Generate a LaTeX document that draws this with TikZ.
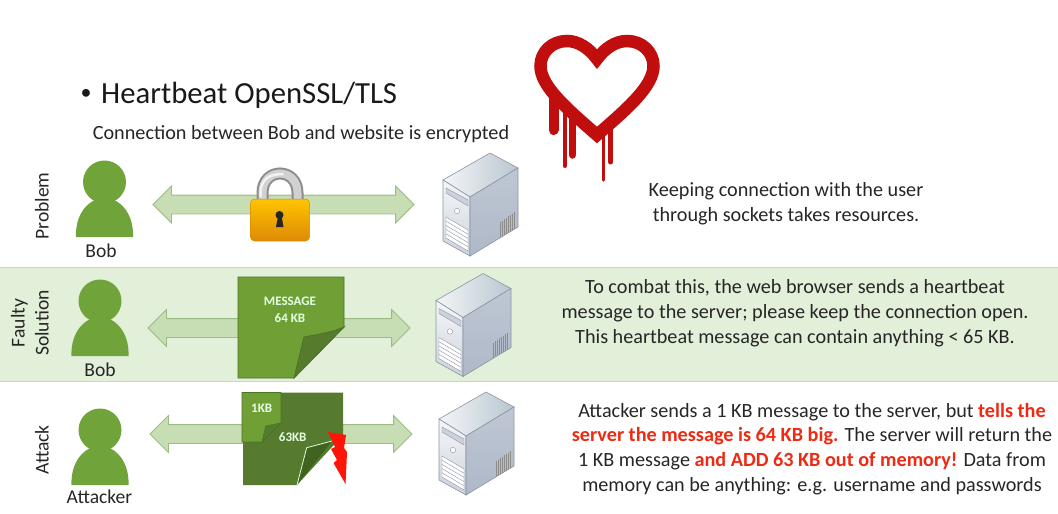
\documentclass[tikz,border=0pt]{standalone}
\usepackage{fontspec}
\setmainfont{Carlito}
\usetikzlibrary{shapes.arrows}
\definecolor{bandgreen}{HTML}{E2EFD9}
\definecolor{bandline}{HTML}{C5DDB5}
\definecolor{arrowfill}{HTML}{C7DDB4}
\definecolor{arrowline}{HTML}{9DBB85}
\definecolor{persongreen}{HTML}{70A33A}
\definecolor{docgreen}{HTML}{70A035}
\definecolor{docline}{HTML}{4A7426}
\definecolor{docdark}{HTML}{567A2E}
\definecolor{folddark}{HTML}{40631F}
\definecolor{heartred}{HTML}{C00D0D}
\definecolor{boltred}{HTML}{FF1408}
\definecolor{alertred}{HTML}{EE2A12}
\definecolor{serverline}{HTML}{8B95A3}
\definecolor{srvtopa}{HTML}{F4F6F8}
\definecolor{srvtopb}{HTML}{B9C6D0}
\definecolor{srvfronta}{HTML}{F5F6F8}
\definecolor{srvfrontb}{HTML}{CCD2DC}
\definecolor{srvsidea}{HTML}{BFC7D4}
\definecolor{srvsideb}{HTML}{AFB8C8}
\definecolor{lockdark}{HTML}{DD8A05}
\definecolor{locklight}{HTML}{FFC400}

\begin{document}
\begin{tikzpicture}[
    x=1pt, y=-1pt,
    txt/.style={font=\fontsize{20.2}{24.8}\selectfont, align=center, inner sep=0pt, text=black!85},
    lbl/.style={txt, font=\fontsize{19.6}{24}\selectfont},
    side/.style={lbl, rotate=90},
    conn/.style={shape=double arrow, draw=arrowline, fill=arrowfill, line width=0.8pt, inner xsep=0pt, inner ysep=9pt,
        minimum width=36pt, double arrow head extend=9pt, double arrow tip angle=90},
    doctxt/.style={font=\fontsize{13}{17}\selectfont\bfseries, align=center, inner sep=0pt, text=white!90!green},
    personfig/.pic={
        \fill[persongreen] (0,-55) circle (21.5);
        \fill[persongreen] (-28.5,0) .. controls (-29.5,-24) and (-15,-39) .. (0,-39)
            .. controls (15,-39) and (29.5,-24) .. (28.5,0) -- cycle;
    },
    serverfig/.pic={
        \draw[serverline, line width=0.6pt, left color=srvtopa, right color=srvtopb]
            (0,0) -- (-27,-17) -- (20,-44) -- (48,-29) -- cycle;
        \draw[serverline, line width=0.6pt, top color=srvfronta, bottom color=srvfrontb]
            (0,0) -- (-27,-17) -- (-27,44) -- (0,59) -- cycle;
        \draw[serverline, line width=0.6pt, top color=srvsidea, bottom color=srvsideb]
            (0,0) -- (48,-29) -- (48,30) -- (0,59) -- cycle;
        \draw[serverline, fill=srvfrontb, line width=0.4pt] (-24,-9) -- (-2,3) -- (-2,9) -- (-24,-4) -- cycle;
        \draw[serverline, fill=white, line width=0.4pt] (-13,14) circle (2.7);
        \draw[serverline, fill=white, line width=0.4pt] (-24,20) -- (-2,33) -- (-2,54) -- (-24,41) -- cycle;
        \foreach \i in {1,2,3,4} {
            \draw[serverline, line width=0.4pt] (-24,20+4.2*\i) -- (-2,33+4.2*\i);
        }
        \foreach \i in {0,...,7} {
            \draw[black!45, line width=0.35pt] (30+2*\i,25-1.4*\i) -- (30+2*\i,40-1.1*\i);
        }
    }
]
\useasboundingbox (0,0) rectangle (1058,514);

\fill[bandgreen] (0,267) rectangle (1058,381);
\draw[bandline] (0,267) -- (1058,267) (0,381) -- (1058,381);

% heading
\node[font=\fontsize{30.7}{36}\selectfont, anchor=west, inner sep=0pt, text=black!90] (title) at (101,95) {Heartbeat OpenSSL/TLS};
\node[font=\fontsize{22}{24}\selectfont, inner sep=0pt, text=black!90] (dot) at (86,94) {•};
\node[txt] (subtitle) at (301,134.5) {Connection between Bob and website is encrypted};

% heart logo
\draw[heartred, line width=12.5pt, miter limit=10] (597,59)
    .. controls (589,48) and (578,41) .. (567,41) .. controls (552,41) and (540.5,52) .. (540.5,66)
    .. controls (540.5,86) and (566,108) .. (597,135) .. controls (628,108) and (653.5,86) .. (653.5,66)
    .. controls (653.5,52) and (642,41) .. (627,41) .. controls (616,41) and (605,48) .. (597,59) -- cycle;
\draw[heartred, line width=10pt, line cap=round] (553.5,95) -- (553.5,130);
\draw[heartred, line width=4pt, line cap=round] (564.7,105) -- (564.7,166);
\draw[heartred, line width=7.5pt, line cap=round] (572.7,115) -- (572.7,155);
\draw[heartred, line width=3.5pt, line cap=round] (603.7,130) -- (603.7,180);
\draw[heartred, line width=5pt, line cap=round] (610.7,120) -- (610.7,162);

% side labels
\node[side] (problem) at (42,206) {Problem};
\node[side] (faulty) at (30,323) {Faulty\\Solution};
\node[side] (attack) at (42,450) {Attack};

% people
\pic (bob) at (104.5,237) {personfig};
\pic (bobb) at (100,356) {personfig};
\pic (attacker) at (100,485) {personfig};
\node[lbl] (boblbl) at (101,251) {Bob};
\node[lbl] (bobblbl) at (100,370) {Bob};
\node[lbl] (attackerlbl) at (99.5,497) {Attacker};

% arrows
\node[conn, minimum height=261pt] (link) at (283.5,204.5) {};
\node[conn, minimum height=262pt] (linkb) at (279,328) {};
\node[conn, minimum height=262pt] (linkc) at (281,434) {};

% servers
\pic (srv) at (470,197) {serverfig};
\pic (srvb) at (463,317.5) {serverfig};
\pic (srvc) at (466,436) {serverfig};

% padlock
\begin{scope}[shift={(3.5,2)}]
\draw[black!45, line width=12pt] (259,200) -- (259,191) .. controls (259,165) and (294,165) .. (294,191) -- (294,200);
\draw[black!18, line width=8pt] (259,200) -- (259,191) .. controls (259,165) and (294,165) .. (294,191) -- (294,200);
\draw[black!5, line width=2.5pt] (257,195) -- (257,190) .. controls (258,174) and (270,172) .. (280,172);
\draw[draw=lockdark, rounded corners=4pt, line width=0.5pt, top color=locklight, bottom color=lockdark]
    (247,197) rectangle (306,239);
\fill[black!85] (276,213) circle (4) (274.5,214) -- (278,214) -- (280,225) -- (272.5,225) -- cycle;
\end{scope}

% message sheet
\draw[docline, fill=docgreen, line width=0.8pt] (238,277) -- (344,277) -- (344,327) -- (294,378) -- (238,378) -- cycle;
\draw[docline, fill=docdark, line width=0.8pt] (344,327) .. controls (330,333) and (314,335) .. (304,337) -- (294,378) -- cycle;
\node[doctxt] (msg) at (290,301) {MESSAGE};
\node[doctxt] (msgsize) at (290,318) {64 KB};

% attack sheet
\fill[docdark] (243,392.5) -- (343,392.5) -- (343,435) -- (297,485) -- (243,485) -- cycle;
\fill[folddark] (332,441) -- (306.7,447.7) -- (297,485) -- cycle;
\draw[white!85!green, line width=0.8pt] (332,441) -- (306.7,447.7) -- (297,485);
\draw[docline, fill=docgreen, line width=0.8pt] (242,392.5) -- (281,392.5) -- (281,423) -- (262,442) -- (242,442) -- cycle;
\draw[docline, fill=docdark, line width=0.6pt] (281,423) -- (265.7,426) -- (262,442) -- cycle;
\node[doctxt] (small) at (261.7,408) {1KB};
\node[doctxt] (large) at (292.7,437) {63KB};
\fill[boltred] (328,432) -- (346,435) -- (344,448) -- (347,452) -- (346.5,464) -- (345.5,484) -- (333.5,463)
    -- (337,460) -- (331,449) -- (335,447) -- cycle;

% right hand text
\node[txt] (keep) at (786,204) {Keeping connection with the user\\through sockets takes resources.};
\node[txt] (combat) at (795,313.5) {To combat this, the web browser sends a heartbeat\\message to the server; please keep the connection open.\\This heartbeat message can contain anything < 65 KB.};
\node[txt] (attacktxt) at (812,449) {Attacker sends a 1 KB message to the server, but \textbf{\textcolor{alertred}{tells the}}\\\textbf{\textcolor{alertred}{server the message is 64 KB big.}} The server will return the\\1 KB message \textbf{\textcolor{alertred}{and ADD 63 KB out of memory!}} Data from\\memory can be anything: e.g. username and passwords};
\end{tikzpicture}
\end{document}
